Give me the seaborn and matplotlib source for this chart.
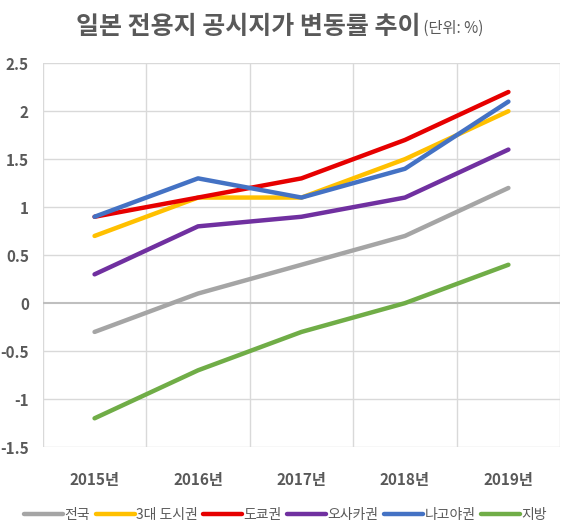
import matplotlib
matplotlib.use("Agg")
import matplotlib.pyplot as plt
import seaborn as sns
import pandas as pd
from matplotlib.lines import Line2D

years = ["2015년", "2016년", "2017년", "2018년", "2019년"]
series_names = ["전국", "3대 도시권", "도쿄권", "오사카권", "나고야권", "지방"]
national = [-0.3, 0.1, 0.4, 0.7, 1.2]
three_metro = [0.7, 1.1, 1.1, 1.5, 2.0]
tokyo = [0.9, 1.1, 1.3, 1.7, 2.2]
osaka = [0.3, 0.8, 0.9, 1.1, 1.6]
nagoya = [0.9, 1.3, 1.1, 1.4, 2.1]
regional = [-1.2, -0.7, -0.3, 0.0, 0.4]
colors = ["#a5a5a5", "#ffc000", "#e60000", "#7030a0", "#4472c4", "#70ad47"]
yticks = [-1.5, -1, -0.5, 0, 0.5, 1, 1.5, 2, 2.5]

values = [national, three_metro, tokyo, osaka, nagoya, regional]
rows = []
for name, vals in zip(series_names, values):
    for i, (y, v) in enumerate(zip(years, vals)):
        rows.append({"x": i, "year": y, "series": name, "value": v})
df = pd.DataFrame(rows)

sns.set_theme(style="white")
plt.rcParams['font.family'] = ['Noto Sans CJK KR', 'DejaVu Sans']

fig = plt.figure(figsize=(5.71, 5.31), dpi=100)
ax = fig.add_axes([0.075, 0.158, 0.906, 0.723])

sns.lineplot(data=df, x="x", y="value", hue="series", palette=colors,
             hue_order=series_names, linewidth=3.2, ax=ax, legend=False,
             sort=False, solid_capstyle="round")

ax.set_xlim(-0.5, 4.5)
ax.set_ylim(-1.5, 2.5)
ax.set_yticks(yticks)
ax.set_yticklabels([f"{t:g}" for t in yticks])
ax.set_xticks(range(len(years)))
ax.set_xticklabels(years)
for s in ax.spines.values():
    s.set_visible(False)
for t in yticks:
    if t == 0:
        ax.axhline(t, color="#bfbfbf", lw=1.5, zorder=1)
    else:
        ax.axhline(t, color="#d9d9d9", lw=1.0, zorder=0)
for xv in [i - 0.5 for i in range(len(years) + 1)]:
    ax.axvline(xv, color="#d9d9d9", lw=1.0, zorder=0)
ax.grid(False)
ax.tick_params(axis="both", which="both", length=0)
ax.tick_params(axis="x", pad=18)
ax.tick_params(axis="y", pad=10)
for lab in ax.get_xticklabels() + ax.get_yticklabels():
    lab.set_fontweight("bold")
    lab.set_color("#595959")
    lab.set_fontsize(11)
ax.set_xlabel("")
ax.set_ylabel("")

handles = [Line2D([0], [0], color=c, lw=3.2) for c in colors]
fig.legend(handles, series_names, loc="center", bbox_to_anchor=(0.5, 0.03),
           ncol=6, frameon=False, fontsize=10, handlelength=2.8,
           handletextpad=0.1, columnspacing=0.4, labelcolor="#595959")

t1 = fig.text(0, 0.950, "일본 전용지 공시지가 변동률 추이", ha="left", va="center",
              fontsize=18, fontweight="bold", color="#595959")
t2 = fig.text(0, 0.946, " (단위: %)", ha="left", va="center",
              fontsize=11, color="#595959")
fig.canvas.draw()
w_title = t1.get_window_extent().width
w_unit = t2.get_window_extent().width
W = fig.get_size_inches()[0] * fig.dpi
center = 0.49 * W
start = center - (w_title + w_unit) / 2
t1.set_position((start / W, 0.950))
t2.set_position(((start + w_title) / W, 0.946))

fig.savefig("out.png", dpi=100)
